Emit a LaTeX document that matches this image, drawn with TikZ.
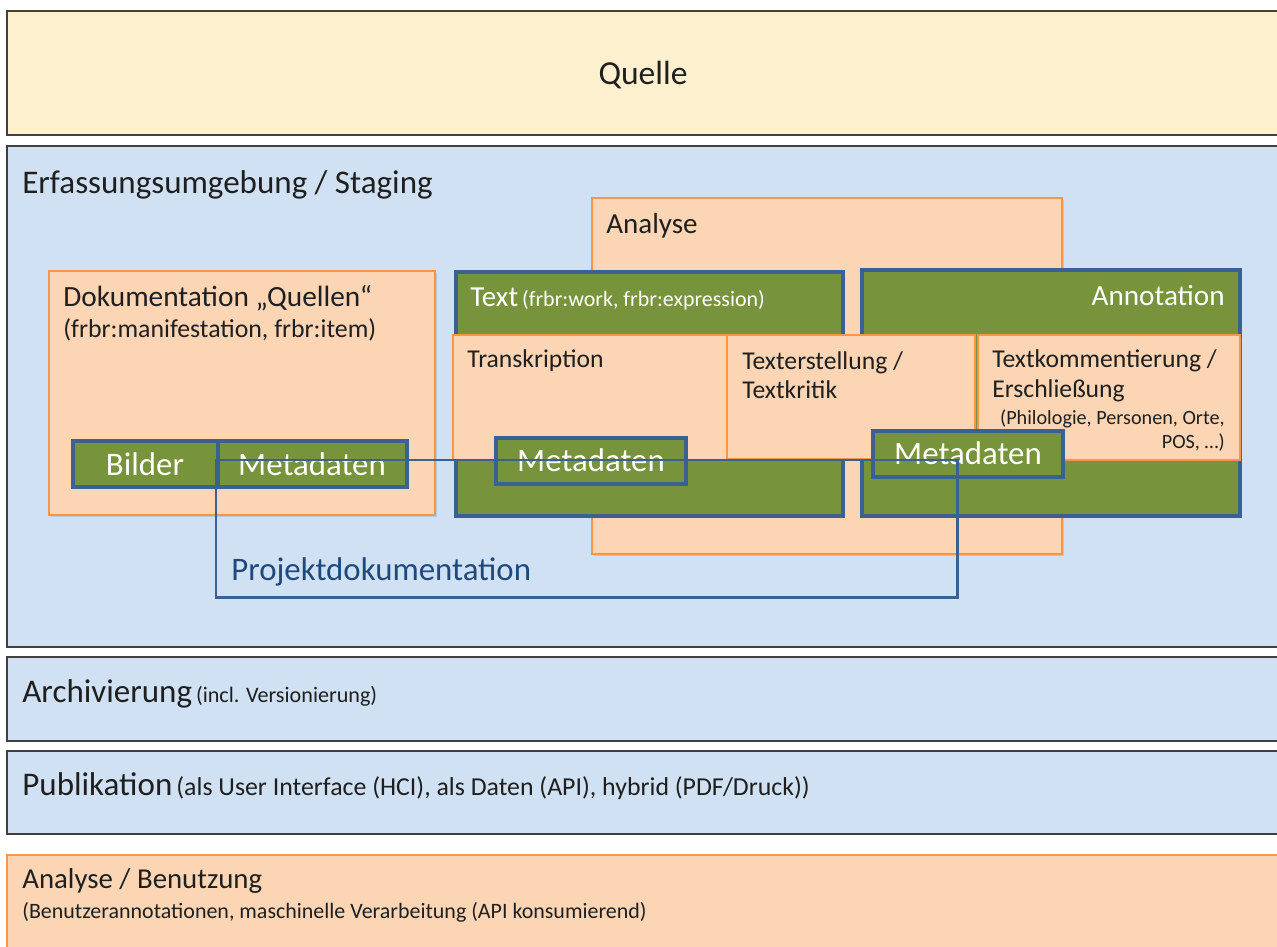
\documentclass[tikz,border=0pt]{standalone}
\usepackage{fontspec}
\setmainfont{Carlito}
\usetikzlibrary{fit}
\usetikzlibrary{shadows}

\definecolor{quellgelb}{HTML}{FDF0CE}
\definecolor{bandblau}{HTML}{D0E1F3}
\definecolor{bandrand}{HTML}{404040}
\definecolor{orangefill}{HTML}{FCD5B5}
\definecolor{orangerand}{HTML}{F79646}
\definecolor{gruen}{HTML}{77933C}
\definecolor{blaurand}{HTML}{3B6193}
\definecolor{projtext}{HTML}{1F497D}

\newcommand{\fsz}[1]{\fontsize{#1}{#1}\selectfont}

\tikzset{
  band/.style={draw=bandrand, line width=1.1pt, inner sep=0pt},
  orangebox/.style={fill=orangefill, draw=orangerand, line width=1pt, inner sep=0pt,
    drop shadow={shadow xshift=1.2pt, shadow yshift=-1.2pt, opacity=0.25}},
  greenbox/.style={fill=gruen, draw=blaurand, line width=1.9pt, inner sep=0pt},
  lbl/.style={inner sep=0pt, text=black!88},
  wlbl/.style={inner sep=0pt, text=white},
}

\begin{document}
\begin{tikzpicture}[x=0.02cm, y=-0.02cm]
    \useasboundingbox (0,0) rectangle (1277,946);
    \clip (0,0) rectangle (1277,946);

    % Schichten
    \node[band, fill=quellgelb, fit={(7,11) (1295,135)}] (quelle) {};
    \node[band, fill=bandblau, fit={(7,146) (1295,647)}] (erfassung) {};
    \node[band, fill=bandblau, fit={(7,657) (1295,741)}] (archiv) {};
    \node[band, fill=bandblau, fit={(7,751) (1295,834)}] (publikation) {};
    \node[band, fill=orangefill, draw=orangerand, line width=1pt, fit={(7,855) (1295,960)}] (benutzung) {};

    \node[lbl, anchor=base, font=\fsz{19.1pt}] (lblQuelle) at (643,85) {Quelle};
    \node[lbl, anchor=base west, font=\fsz{18.8pt}] (lblErfassung) at (22,193) {Erfassungsumgebung / Staging};
    \node[lbl, anchor=base west] (lblArchiv) at (22,702) {{\fsz{18.8pt}Archivierung} {\fsz{12.6pt}(incl. Versionierung)}};
    \node[lbl, anchor=base west] (lblPubl) at (22,795) {{\fsz{18.8pt}Publikation} {\fsz{14.7pt}(als User Interface (HCI), als Daten (API), hybrid (PDF/Druck))}};
    \node[lbl, anchor=base west, font=\fsz{16.4pt}] (lblBenutzung) at (22,888) {Analyse / Benutzung};
    \node[lbl, anchor=base west, font=\fsz{12.5pt}] (lblBenutzungB) at (22,918) {(Benutzerannotationen, maschinelle Verarbeitung (API konsumierend)};

    % Erfassung
    \node[orangebox, fit={(49,271) (435,515)}] (doku) {};
    \node[lbl, anchor=base west, font=\fsz{16.7pt}] (lblDoku) at (63,306) {Dokumentation „Quellen“};
    \node[lbl, anchor=base west, font=\fsz{14.7pt}] (lblDokuB) at (63,337) {(frbr:manifestation, frbr:item)};

    \node[orangebox, fit={(592,198) (1062,554)}] (analyse) {};
    \node[lbl, anchor=base west, font=\fsz{16.5pt}] (lblAnalyse) at (606,233) {Analyse};

    \node[greenbox, fit={(456,272) (843,516)}] (textbox) {};
    \node[wlbl, anchor=base west] (lblText) at (470,306) {{\fsz{16.5pt}Text} {\fsz{12.5pt}(frbr:work, frbr:expression)}};
    \node[greenbox, fit={(862,270) (1240,516)}] (annobox) {};
    \node[wlbl, anchor=base east, font=\fsz{16.6pt}] (lblAnno) at (1225,305) {Annotation};

    \node[orangebox, fit={(453,335) (727,460)}] (transkr) {};
    \node[lbl, anchor=base west, font=\fsz{14.6pt}] (lblTranskr) at (467,367) {Transkription};
    \node[orangebox, fit={(727,335) (975,459)}] (texterst) {};
    \node[lbl, anchor=base west, font=\fsz{14.6pt}] (lblTexterst) at (742,369) {Texterstellung /};
    \node[lbl, anchor=base west, font=\fsz{14.6pt}] (lblTexterstB) at (742,398) {Textkritik};
    \node[orangebox, fit={(978,335) (1240,460)}] (textkomm) {};
    \node[lbl, anchor=base west, font=\fsz{14.6pt}] (lblTextkomm) at (992,367) {Textkommentierung /};
    \node[lbl, anchor=base west, font=\fsz{14.6pt}] (lblTextkommB) at (992,397) {Erschließung};
    \node[lbl, anchor=base east, font=\fsz{11.5pt}] (lblTextkommC) at (1225,424) {(Philologie, Personen, Orte,};
    \node[lbl, anchor=base east, font=\fsz{11.5pt}] (lblTextkommD) at (1225,448) {POS, …)};

    % Metadaten
    \node[greenbox, fit={(73,441) (218,487)}] (bilder) {};
    \node[wlbl, anchor=base, font=\fsz{18.7pt}] (lblBilder) at (145,475) {Bilder};
    \node[greenbox, fit={(218,441) (407,487)}] (metaDoku) {};
    \node[wlbl, anchor=base, font=\fsz{18.7pt}] (lblMetaDoku) at (312,475) {Metadaten};
    \node[greenbox, fit={(496,438) (686,484)}] (metaTrans) {};
    \node[wlbl, anchor=base, font=\fsz{18.7pt}] (lblMetaTrans) at (591,471) {Metadaten};
    \node[greenbox, fit={(873,431) (1063,477)}] (metaKomm) {};
    \node[wlbl, anchor=base, font=\fsz{18.7pt}] (lblMetaKomm) at (968,464) {Metadaten};

    % Projektdokumentation
    \node[draw=blaurand, line width=1.7pt, inner sep=0pt, fit={(216,460) (957,597)}] (projekt) {};
    \node[inner sep=0pt, anchor=base west, text=projtext, font=\fsz{18.7pt}] (lblProjekt) at (231,580) {Projektdokumentation};
\end{tikzpicture}
\end{document}
